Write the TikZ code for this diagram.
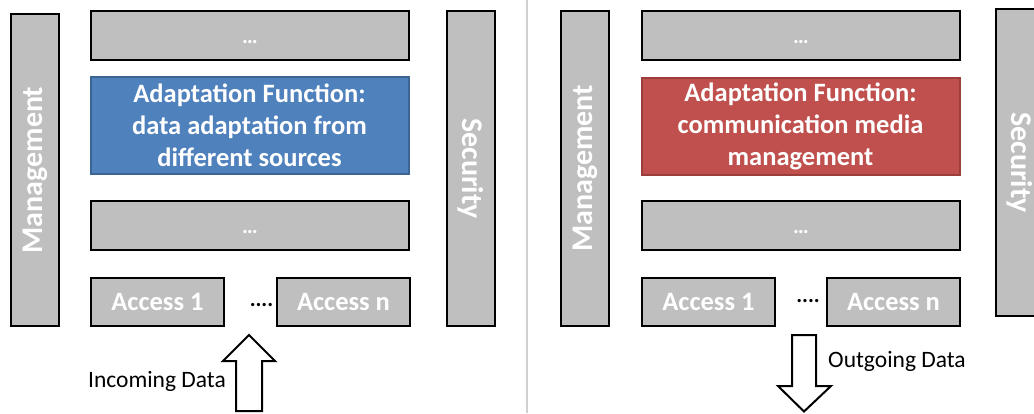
\documentclass[tikz,border=0pt]{standalone}
\usepackage{fontspec}
\setmainfont{Carlito}
\definecolor{boxgray}{HTML}{BFBFBF}
\definecolor{adaptblue}{HTML}{4F81BD}
\definecolor{adaptblueline}{HTML}{3C6596}
\definecolor{adaptred}{HTML}{C0504D}
\definecolor{adaptredline}{HTML}{9C3F3C}
\definecolor{divgray}{HTML}{D0D0D0}

\tikzstyle{layer}  = [draw=black, fill=boxgray, line width=2pt, inner sep=0pt, text=white]
\tikzstyle{gap}    = [layer, minimum width=318pt, minimum height=49pt, text height=16pt, text depth=0pt, font=\bfseries\fontsize{22}{26}\selectfont]
\tikzstyle{access} = [layer, minimum width=133pt, minimum height=48pt, font=\bfseries\fontsize{26.5}{32}\selectfont]
\tikzstyle{side}   = [layer, minimum height=48pt, font=\bfseries\fontsize{30}{36}\selectfont]
\tikzstyle{adapt}  = [line width=2pt, minimum width=318pt, minimum height=97pt, inner sep=0pt, align=center, text=white, font=\bfseries\fontsize{26.5}{32}\selectfont]
\tikzstyle{dots}   = [anchor=base, inner sep=0pt, font=\bfseries\fontsize{22}{26}\selectfont]
\tikzstyle{flow}   = [inner sep=0pt, font=\fontsize{23.5}{28}\selectfont]
\tikzstyle{block}  = [draw=black, fill=white, line width=2pt, line join=miter]

\begin{document}
\begin{tikzpicture}[x=1pt,y=-1pt]
  \useasboundingbox (0,0) rectangle (1034,413);
  \clip (0,0) rectangle (1034,413);

  % incoming side
  \node at (35,170)     (mgmtL)  [side, rotate=90, minimum width=312pt] {Management};
  \node at (250,35.5)   (topL)   [gap] {\dots};
  \node at (249.5,125.5) (adaptL) [adapt, fill=adaptblue, draw=adaptblueline]
    {Adaptation Function:\\data adaptation from\\different sources};
  \node at (250,225)    (midL)   [gap] {\dots};
  \node at (157.5,302)  (acc1L)  [access] {Access 1};
  \node at (343.5,302)  (accnL)  [access] {Access n};
  \node at (261.5,306)  (dotsL)  [dots] {....};
  \node at (471,168.5)  (secL)   [side, rotate=-90, minimum width=315pt] {Security};
  \coordinate (inTip) at (249,335);
  \draw[block] (inTip) -- ++(26,26) -- ++(-13,0) -- ++(0,50) -- ++(-26,0)
    -- ++(0,-50) -- ++(-13,0) -- cycle;
  \node at (226,381) (inLbl) [flow, anchor=east] {Incoming Data};

  \draw[divgray, line width=2pt] (527,0) -- (527,413);

  % outgoing side
  \node at (585,168.5)  (mgmtR)  [side, rotate=90, minimum width=315pt] {Management};
  \node at (801,35.5)   (topR)   [gap] {\dots};
  \node at (800.5,126.5) (adaptR) [adapt, fill=adaptred, draw=adaptredline]
    {Adaptation Function:\\communication media\\management};
  \node at (801,225)    (midR)   [gap] {\dots};
  \node at (708.5,302)  (acc1R)  [access] {Access 1};
  \node at (893.5,302)  (accnR)  [access] {Access n};
  \node at (808,302)    (dotsR)  [dots] {....};
  \node at (1020,162.5) (secR)   [side, rotate=-90, minimum width=307pt] {Security};
  \coordinate (outTip) at (804,411.5);
  \draw[block] (outTip) -- ++(27,-25.5) -- ++(-15,0) -- ++(0,-51) -- ++(-24,0)
    -- ++(0,51) -- ++(-14,0) -- cycle;
  \node at (828,361.5) (outLbl) [flow, anchor=west] {Outgoing Data};
\end{tikzpicture}
\end{document}
